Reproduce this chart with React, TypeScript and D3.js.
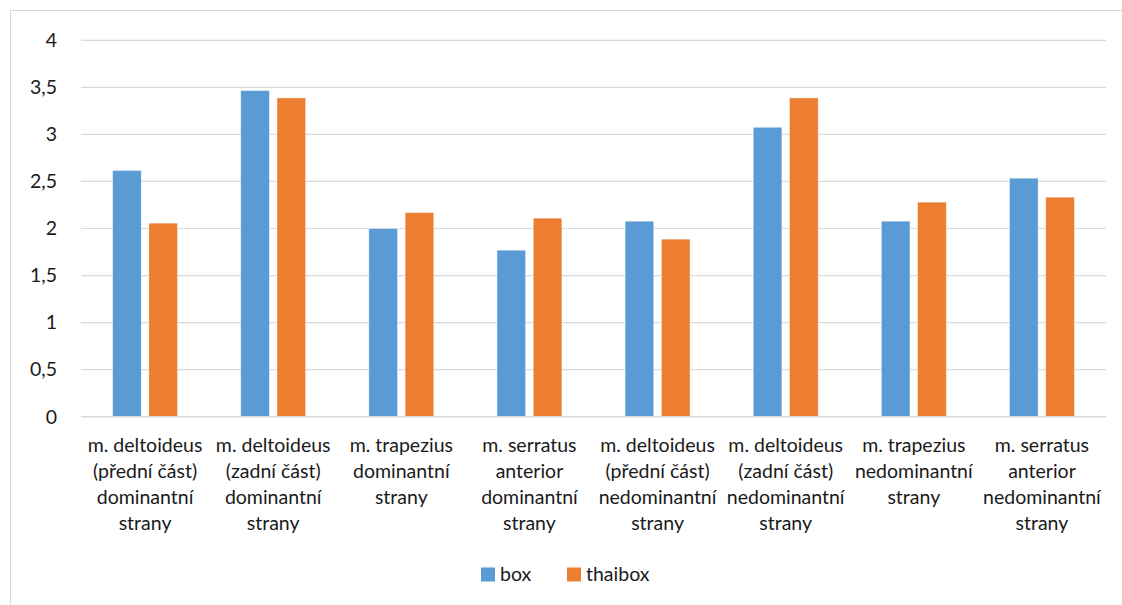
import React from "react";
import * as d3 from "d3";

const categories: string[][] = [
  ["m. deltoideus", "(přední část)", "dominantní", "strany"],
  ["m. deltoideus", "(zadní část)", "dominantní", "strany"],
  ["m. trapezius", "dominantní", "strany"],
  ["m. serratus", "anterior", "dominantní", "strany"],
  ["m. deltoideus", "(přední část)", "nedominantní", "strany"],
  ["m. deltoideus", "(zadní část)", "nedominantní", "strany"],
  ["m. trapezius", "nedominantní", "strany"],
  ["m. serratus", "anterior", "nedominantní", "strany"],
];
const seriesNames = ["box", "thaibox"];
const boxValues = [2.617, 3.466, 2.0, 1.77, 2.078, 3.076, 2.078, 2.535];
const thaiboxValues = [2.057, 3.388, 2.17, 2.11, 1.887, 3.388, 2.28, 2.333];
const yTicks = [0, 0.5, 1, 1.5, 2, 2.5, 3, 3.5, 4];
const colors = ["#5B9BD5", "#ED7D31"];

const W = 1122;
const H = 605;
const plotLeft = 81;
const plotRight = 1106;
const plotTop = 40.3;
const plotBottom = 416.7;
const FONT = "Lato, 'Open Sans', sans-serif";

export default function App() {
  const x0 = d3
    .scaleBand<number>()
    .domain(categories.map((_, i) => i))
    .range([plotLeft, plotRight])
    .paddingInner(0)
    .paddingOuter(0);
  const bw = x0.bandwidth();
  const groupW = bw * 0.507;
  const x1 = d3
    .scaleBand<string>()
    .domain(seriesNames)
    .range([-groupW / 2, groupW / 2])
    .paddingInner(0.209);
  const y = d3.scaleLinear().domain([0, 4]).range([plotBottom, plotTop]);
  const seriesValues = [boxValues, thaiboxValues];
  const fmt = (v: number) => String(v).replace(".", ",");

  return (
    <svg
      width={W}
      height={H}
      style={{ position: "absolute", left: 0, top: 0, background: "#fff" }}
      fontFamily={FONT}
    >
      <rect x={10.5} y={10.5} width={W + 10} height={H + 10} fill="#fff" stroke="#D9D9D9" strokeWidth={1} />
      {yTicks.map((t) => (
        <g key={t}>
          <line
            x1={plotLeft}
            x2={plotRight}
            y1={y(t)}
            y2={y(t)}
            stroke="#D9D9D9"
            strokeWidth={1.2}
          />
          <text
            x={57}
            y={y(t)}
            dy="0.35em"
            textAnchor="end"
            fontSize={19.5}
            fill="#1a1a1a"
          >
            {fmt(t)}
          </text>
        </g>
      ))}
      {categories.map((cat, i) => {
        const cx = (x0(i) as number) + bw / 2;
        return (
          <g key={i}>
            {seriesValues.map((vals, s) => (
              <rect
                key={s}
                x={cx + (x1(seriesNames[s]) as number)}
                y={y(vals[i])}
                width={x1.bandwidth()}
                height={y(0) - y(vals[i])}
                fill={colors[s]}
                stroke="#fff"
                strokeOpacity={0.6}
                strokeWidth={0.75}
              />
            ))}
            <text textAnchor="middle" fontSize={19.5} fill="#1a1a1a">
              {cat.map((line, li) => (
                <tspan key={li} x={cx} y={452 + li * 26}>
                  {line}
                </tspan>
              ))}
            </text>
          </g>
        );
      })}
      <line x1={plotLeft} x2={plotRight} y1={y(0)} y2={y(0)} stroke="#D9D9D9" strokeWidth={1.2} />
      {seriesNames.map((name, s) => {
        const lx = s === 0 ? 481 : 567;
        return (
          <g key={name}>
            <rect x={lx} y={567.5} width={14} height={14} fill={colors[s]} />
            <text x={lx + 19} y={574.5} dy="0.35em" fontSize={19.5} fill="#1a1a1a">
              {name}
            </text>
          </g>
        );
      })}
    </svg>
  );
}
